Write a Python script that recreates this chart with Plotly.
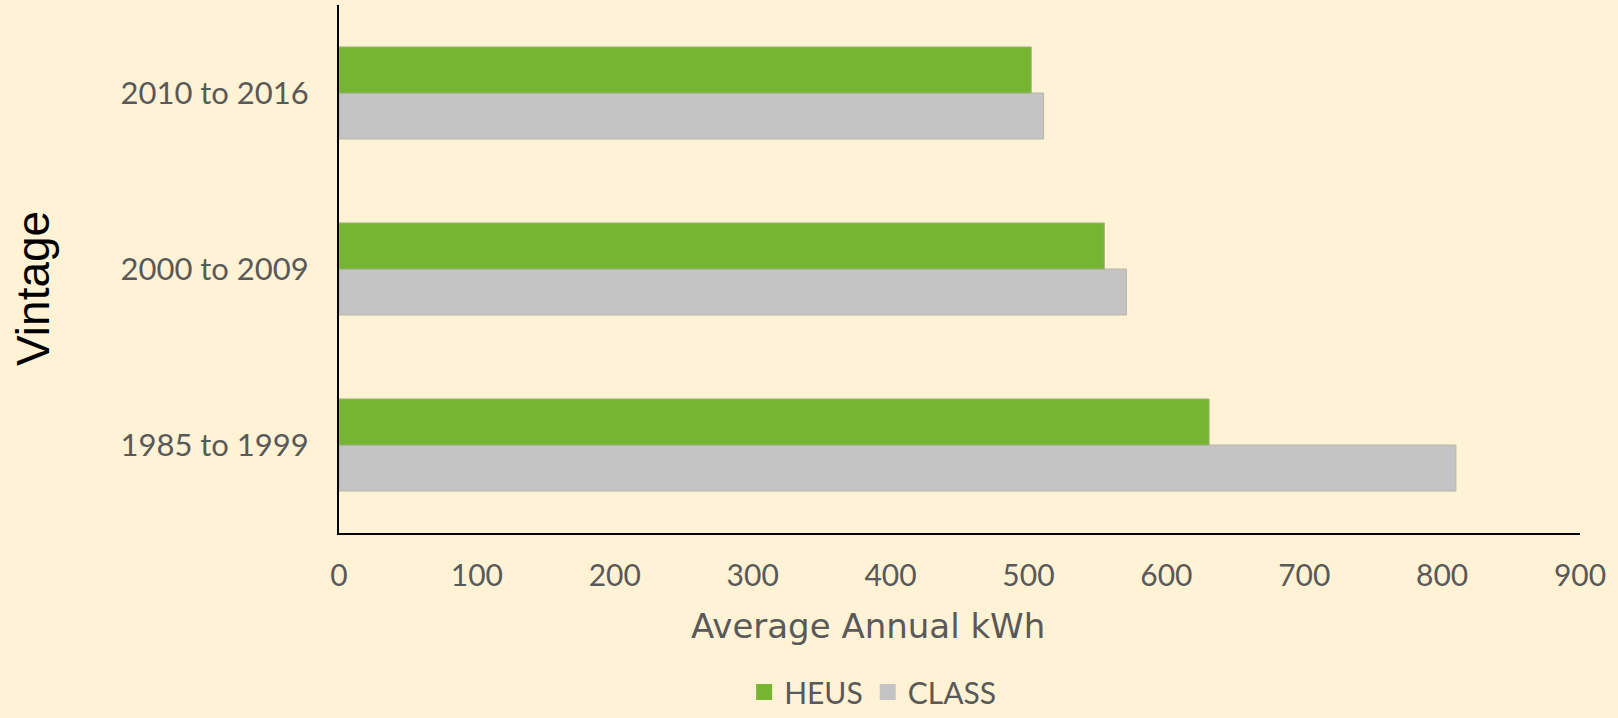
import plotly.graph_objects as go

categories = ["1985 to 1999", "2000 to 2009", "2010 to 2016"]
heus = [631, 555, 502]
class_vals = [810, 571, 511]
x_ticks = [0, 100, 200, 300, 400, 500, 600, 700, 800, 900]

GREEN = "#76B532"
GRAY = "#C4C4C4"
BG = "#FFF2D5"
TXT = "#595959"

fig = go.Figure()
fig.add_trace(go.Bar(y=categories, x=class_vals, orientation="h", name="CLASS",
                     marker=dict(color=GRAY, line=dict(color="#B8B4A8", width=1)),
                     showlegend=False))
fig.add_trace(go.Bar(y=categories, x=heus, orientation="h", name="HEUS",
                     marker=dict(color=GREEN, line=dict(color="#9DB07A", width=1)),
                     showlegend=False))
# legend-only entries
fig.add_trace(go.Scatter(x=[None], y=[None], mode="markers", name="HEUS",
                         marker=dict(symbol="square", size=18, color=GREEN)))
fig.add_trace(go.Scatter(x=[None], y=[None], mode="markers", name="CLASS",
                         marker=dict(symbol="square", size=18, color=GRAY)))

fig.update_layout(
    width=1618, height=718,
    paper_bgcolor=BG, plot_bgcolor=BG,
    margin=dict(l=339, r=38, t=5, b=185, autoexpand=False),
    barmode="group", bargap=0.477, bargroupgap=0,
    showlegend=True,
    legend=dict(orientation="h", x=0.43, xanchor="center",
                yref="container", y=0, yanchor="bottom",
                font=dict(family="Lato", size=30, color=TXT), bgcolor="rgba(0,0,0,0)",
                itemwidth=30),
    xaxis=dict(range=[0, 900], tickvals=x_ticks, showgrid=False, zeroline=False,
               showline=True, linecolor="black", linewidth=2, ticks="",
               tickfont=dict(family="Lato", size=30, color=TXT),
               ticklabelstandoff=15),
    yaxis=dict(categoryorder="array", categoryarray=categories, showgrid=False,
               zeroline=False, showline=True, linecolor="black", linewidth=2, ticks="",
               tickfont=dict(family="Lato", size=31, color=TXT),
               ticklabelstandoff=22),
    annotations=[
        dict(text="Average Annual kWh", xref="paper", yref="paper",
             x=(868 - 339) / 1241, y=(533 - 626) / 528, xanchor="center", yanchor="middle",
             showarrow=False, font=dict(family="DejaVu Sans", size=34, color=TXT)),
        dict(text="Vintage", xref="paper", yref="paper",
             x=(33 - 339) / 1241, y=(533 - 289) / 528, xanchor="center", yanchor="middle",
             textangle=-90, showarrow=False,
             font=dict(family="Liberation Sans", size=46, color="black")),
    ],
)

fig.write_html(
    "out.html",
    config={"displayModeBar": False},
    post_script="document.body.style.margin='0';document.body.style.background='%s';" % BG,
)
